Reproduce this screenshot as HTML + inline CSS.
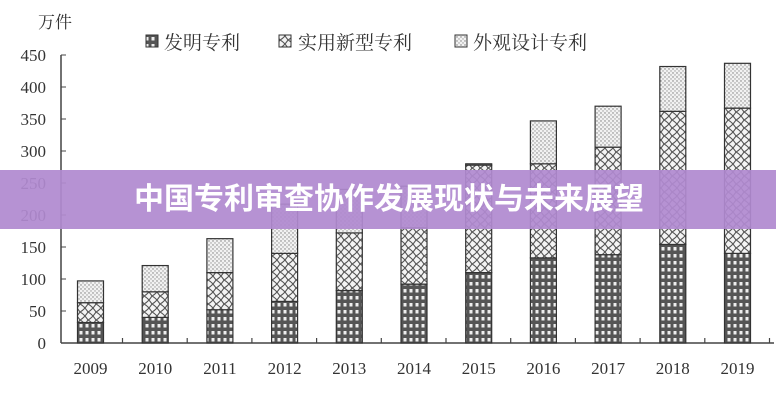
<!DOCTYPE html>
<html><head><meta charset="utf-8"><style>
body{margin:0;background:#fff;}
svg text{font-family:"Liberation Serif","Noto Serif CJK SC",serif;fill:#333;}
.banner{position:absolute;left:0;top:170px;width:776px;height:59px;background:rgba(176,138,208,0.93);color:#fff;font:bold 30px "Liberation Sans","Noto Sans CJK SC",sans-serif;text-align:center;line-height:59px;padding-left:2px;box-sizing:border-box;}
</style></head><body>
<div style="position:relative;width:776px;height:400px;overflow:hidden">
<svg width="776" height="400" xmlns="http://www.w3.org/2000/svg">
<defs>
<pattern id="inv" width="6" height="7" patternUnits="userSpaceOnUse"><rect width="6" height="7" fill="#555"/><rect x="1.5" y="2" width="3" height="3.5" fill="#eee"/></pattern>
<pattern id="uti" width="8" height="8" patternUnits="userSpaceOnUse"><rect width="8" height="8" fill="#f4f4f4"/><path d="M0 0 Q4 2 8 8 M8 0 Q4 6 0 8" stroke="#555" stroke-width="1.1" fill="none"/></pattern>
<pattern id="des" width="4" height="4" patternUnits="userSpaceOnUse"><rect width="4" height="4" fill="#f2f2f2"/><circle cx="1" cy="1" r="0.7" fill="#777"/><circle cx="3" cy="3" r="0.7" fill="#999"/></pattern>
</defs>
<text x="38" y="28" font-size="17">万件</text>
<g font-size="19">
<rect x="146" y="35" width="12" height="12" fill="url(#inv)" stroke="#333"/><text x="164" y="49">发明专利</text>
<rect x="279" y="35" width="12" height="12" fill="url(#uti)" stroke="#333"/><text x="298" y="49">实用新型专利</text>
<rect x="455" y="35" width="12" height="12" fill="url(#des)" stroke="#333"/><text x="473" y="49">外观设计专利</text>
</g>
<line x1="61" y1="55" x2="61" y2="343" stroke="#444" stroke-width="1.5"/>
<line x1="61" y1="343" x2="774" y2="343" stroke="#444" stroke-width="1.5"/>
<g stroke="#444">
<line x1="61" y1="55" x2="66" y2="55"/><line x1="61" y1="87" x2="66" y2="87"/><line x1="61" y1="119" x2="66" y2="119"/><line x1="61" y1="151" x2="66" y2="151"/><line x1="61" y1="183" x2="66" y2="183"/><line x1="61" y1="215" x2="66" y2="215"/><line x1="61" y1="247" x2="66" y2="247"/><line x1="61" y1="279" x2="66" y2="279"/><line x1="61" y1="311" x2="66" y2="311"/>
</g>
<g font-size="17" text-anchor="end">
<text x="46" y="61">450</text><text x="46" y="93">400</text><text x="46" y="125">350</text><text x="46" y="157">300</text><text x="46" y="189">250</text><text x="46" y="221">200</text><text x="46" y="253">150</text><text x="46" y="285">100</text><text x="46" y="317">50</text><text x="46" y="349">0</text>
</g>
<g id="bars" stroke="#333" stroke-width="1.2"></g>
<g id="years" font-size="17" text-anchor="middle"></g>
</svg>
<div class="banner">中国专利审查协作发展现状与未来展望</div>
</div>
<script>
var d=[[32,63,97],[40,80,121],[52,110,163],[65,140,217],[82,172,240],[92,180,245],[110,278,280],[133,280,347],[138,306,370],[154,362,432],[140,367,437]];
var s=0.64,b=343,g=document.getElementById('bars'),y=document.getElementById('years'),ns="http://www.w3.org/2000/svg";
function r(x,v0,v1,f){var e=document.createElementNS(ns,'rect');e.setAttribute('x',x);e.setAttribute('y',b-v1*s);e.setAttribute('width',26);e.setAttribute('height',(v1-v0)*s);e.setAttribute('fill',f);g.appendChild(e);}
d.forEach(function(v,i){var c=90.5+64.7*i,x=c-13;r(x,0,v[0],'url(#inv)');r(x,v[0],v[1],'url(#uti)');r(x,v[1],v[2],'url(#des)');
var t=document.createElementNS(ns,'text');t.setAttribute('x',c);t.setAttribute('y',374);t.textContent=2009+i;y.appendChild(t);
var l=document.createElementNS(ns,'line');l.setAttribute('x1',c+32);l.setAttribute('x2',c+32);l.setAttribute('y1',343);l.setAttribute('y2',338);l.setAttribute('stroke','#444');g.appendChild(l);});
</script>
</body></html>
